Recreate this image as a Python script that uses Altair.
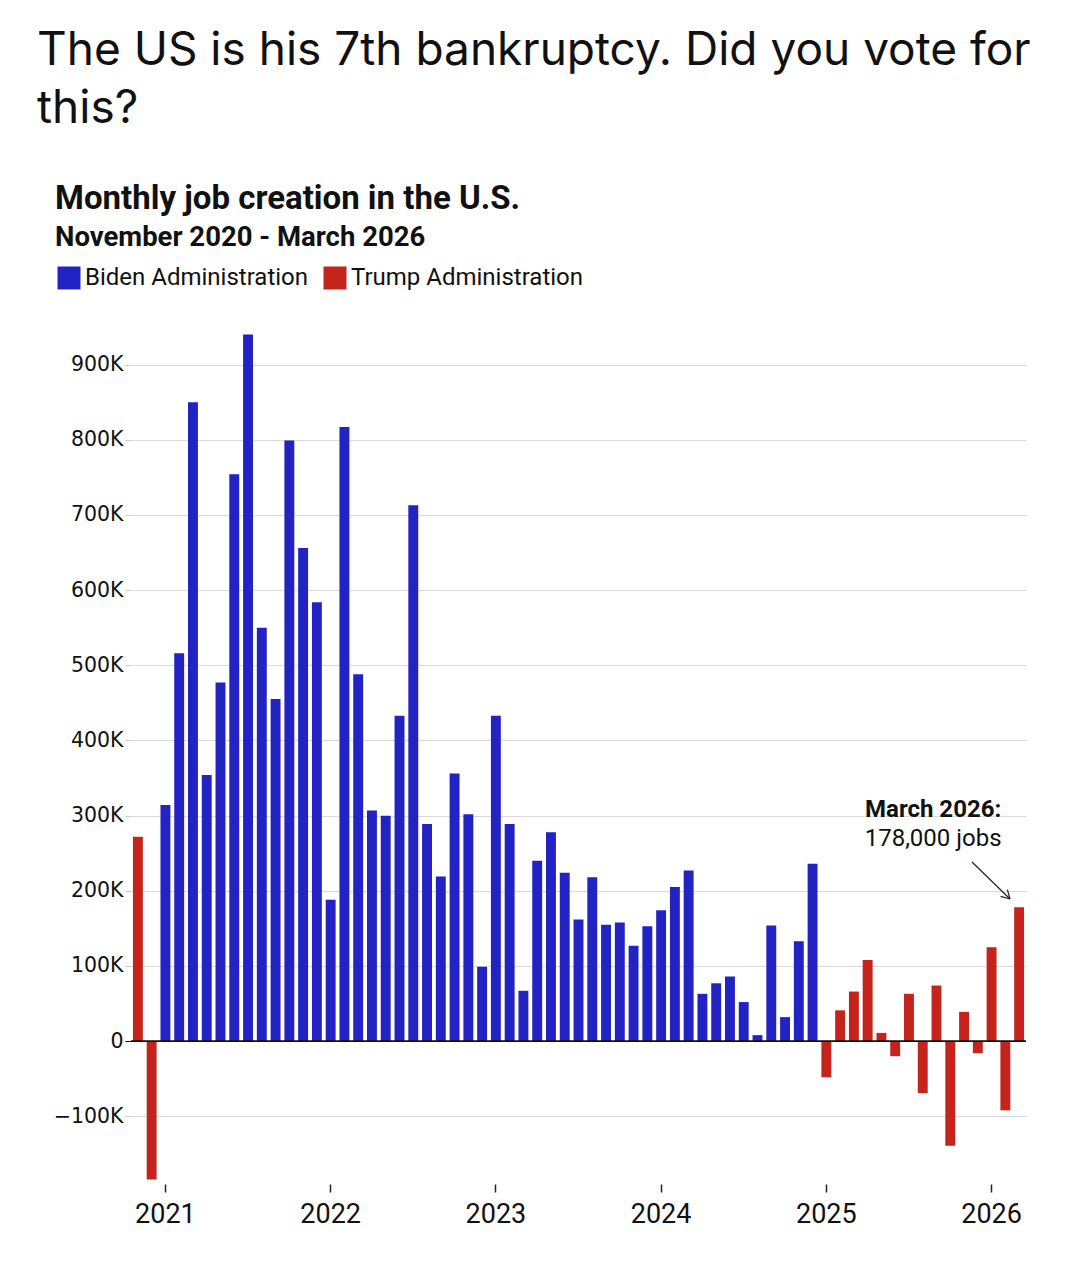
import altair as alt
import pandas as pd

# ---------------- data (thousands of jobs) ----------------
trump_2020 = [272, -184]                     # Nov, Dec 2020
biden_2021 = [314, 516, 850, 354, 477, 754, 940, 550, 455, 799, 656, 584]
biden_2022 = [188, 817, 488, 307, 300, 433, 713, 289, 219, 356, 302, 99]
biden_2023 = [433, 289, 67, 240, 278, 224, 162, 218, 155, 158, 127, 153]
biden_2024 = [174, 205, 227, 63, 77, 86, 52, 8, 154, 32, 133, 236]
trump_2025 = [-48, 41, 66, 108, 11, -20, 63, -69, 74, -139, 39, -16]
trump_2026 = [125, -92, 178]                 # Jan-Mar 2026

month_labels = (["2020-11", "2020-12"]
                + [f"{y}-{m:02d}" for y in range(2021, 2026) for m in range(1, 13)]
                + ["2026-01", "2026-02", "2026-03"])
year_ticks = ["2021-01", "2022-01", "2023-01", "2024-01", "2025-01", "2026-01"]
y_ticks = [-100, 0, 100, 200, 300, 400, 500, 600, 700, 800, 900]

BIDEN = "Biden Administration"
TRUMP = "Trump Administration"

values = trump_2020 + biden_2021 + biden_2022 + biden_2023 + biden_2024 + trump_2025 + trump_2026
admins = [TRUMP] * 2 + [BIDEN] * 48 + [TRUMP] * 15

df = pd.DataFrame({"month": month_labels, "jobs": values, "admin": admins})

W, H = 895, 857

bars = alt.Chart(df).mark_bar().encode(
    x=alt.X("month:O", sort=None, title=None,
            scale=alt.Scale(paddingInner=0.28, paddingOuter=0.14),
            axis=alt.Axis(values=year_ticks, labelExpr="slice(datum.value, 0, 4)",
                          labelAngle=0, domain=False, grid=False,
                          tickSize=8, tickColor="#222222", tickWidth=1.5,
                          labelFont="Roboto", labelFontSize=27, labelColor="#111111",
                          labelPadding=9)),
    y=alt.Y("jobs:Q", title=None,
            scale=alt.Scale(domain=[-190, 950], nice=False),
            axis=alt.Axis(values=y_ticks,
                          labelExpr="datum.value == 0 ? '0' : (datum.value < 0 ? '\u2212' : '') + format(abs(datum.value), 'd') + 'K'",
                          grid=True, gridColor="#d9d9d9", gridWidth=1, domain=False,
                          tickSize=6,
                          tickColor={"condition": {"test": "datum.value === 0", "value": "#111111"}, "value": "#cccccc"},
                          labelFont="DejaVu Sans", labelFontSize=20.5, labelColor="#111111",
                          labelPadding=2)),
    color=alt.Color("admin:N",
                    scale=alt.Scale(domain=[BIDEN, TRUMP], range=["#2323c4", "#c4241c"]),
                    legend=alt.Legend(orient="none", legendX=-74, legendY=-61,
                                      direction="horizontal", title=None,
                                      symbolType="square", symbolSize=529,
                                      symbolStrokeWidth=0, symbolOpacity=1,
                                      labelFont="Roboto", labelFontSize=24,
                                      labelColor="#111111", labelLimit=400,
                                      labelOffset=4, columnPadding=14)),
)

zero = alt.Chart(pd.DataFrame({"v": [0]})).mark_rule(color="#111111", strokeWidth=1.6).encode(
    y="v:Q", x=alt.value(0), x2=alt.value(W)
)

annot_df = pd.DataFrame({"month": ["2026-03"], "jobs": [178],
                         "l1": ["March 2026:"], "l2": ["178,000 jobs"]})
annot1 = alt.Chart(annot_df).mark_text(font="Roboto", fontSize=24, fontWeight="bold",
                                       align="center", baseline="alphabetic",
                                       dx=-86, dy=-90, color="#111111").encode(
    x="month:O", y="jobs:Q", text="l1:N")
annot2 = alt.Chart(annot_df).mark_text(font="Roboto", fontSize=24,
                                       align="center", baseline="alphabetic",
                                       dx=-86, dy=-61, color="#111111").encode(
    x="month:O", y="jobs:Q", text="l2:N")

arrow_df = pd.DataFrame({"x": [841, 879, 879], "y": [535, 572, 572],
                         "x2": [879, 876.4, 869.6], "y2": [572, 562.6, 569.4]})
arrow = alt.Chart(arrow_df).mark_rule(color="#222222", strokeWidth=1.2).encode(
    x=alt.X("x:Q", scale=None), y=alt.Y("y:Q", scale=None),
    x2="x2:Q", y2="y2:Q")

def txt(s, x, y, size, weight="normal", font="Roboto"):
    return alt.Chart(pd.DataFrame({"t": [s]})).mark_text(
        font=font, fontSize=size, fontWeight=weight, align="left",
        baseline="alphabetic", color="#111111").encode(
        text="t:N", x=alt.value(x), y=alt.value(y))

header1 = txt("The US is his 7th bankruptcy. Did you vote for", -94, -262, 46, font="Inter")
header2 = txt("this?", -94, -204, 46, font="Inter")
title = txt("Monthly job creation in the U.S.", -76, -118, 33, weight="bold")
subtitle = txt("November 2020 - March 2026", -76, -81, 27.5, weight="bold")

chart = alt.layer(bars, zero, annot1, annot2, arrow, header1, header2, title, subtitle).properties(
    width=W, height=H,
    autosize=alt.AutoSizeParams(type="none"),
    padding={"left": 131, "top": 327, "right": 54, "bottom": 77},
    background="white",
).configure_view(stroke=None)

chart.save("out.html", embed_options={"renderer": "svg", "actions": False})
